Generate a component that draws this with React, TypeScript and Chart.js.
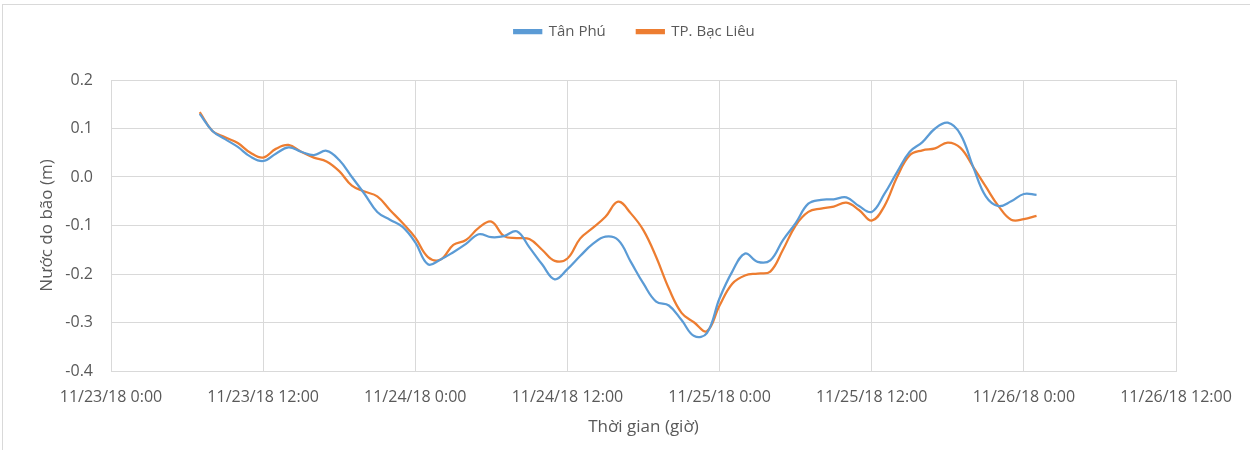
import { useEffect, useRef } from 'react';
import { Chart, registerables } from 'chart.js';

Chart.register(...registerables);

// First data hour (hours counted from 11/23/18 0:00), one value per hour
const startHour = 7;

const tanPhu = [
  0.130, 0.095, 0.078, 0.062, 0.042, 0.033, 0.048, 0.061, 0.052, 0.045,
  0.054, 0.035, 0.000, -0.035, -0.072, -0.088, -0.103, -0.135, -0.180, -0.170,
  -0.155, -0.138, -0.118, -0.124, -0.122, -0.112, -0.145, -0.180, -0.211, -0.190,
  -0.163, -0.138, -0.123, -0.130, -0.175, -0.220, -0.257, -0.265, -0.295, -0.328,
  -0.322, -0.250, -0.195, -0.158, -0.175, -0.172, -0.130, -0.095, -0.055, -0.047,
  -0.046, -0.042, -0.060, -0.072, -0.035, 0.010, 0.052, 0.072, 0.100, 0.112,
  0.088, 0.021, -0.040, -0.060, -0.050, -0.035, -0.037,
];

const bacLieu = [
  0.134, 0.095, 0.082, 0.070, 0.050, 0.040, 0.058, 0.066, 0.052, 0.040,
  0.032, 0.012, -0.018, -0.030, -0.040, -0.068, -0.095, -0.125, -0.165, -0.170,
  -0.140, -0.130, -0.105, -0.092, -0.122, -0.126, -0.128, -0.150, -0.173, -0.168,
  -0.127, -0.105, -0.082, -0.051, -0.075, -0.110, -0.165, -0.230, -0.280, -0.300,
  -0.318, -0.265, -0.220, -0.203, -0.199, -0.195, -0.150, -0.100, -0.072, -0.065,
  -0.061, -0.053, -0.068, -0.090, -0.060, 0.000, 0.045, 0.055, 0.059, 0.071,
  0.060, 0.021, -0.020, -0.060, -0.088, -0.087, -0.080,
];

const seriesNames = ['Tân Phú', 'TP. Bạc Liêu'];
const xTickLabels = [
  '11/23/18 0:00', '11/23/18 12:00', '11/24/18 0:00', '11/24/18 12:00',
  '11/25/18 0:00', '11/25/18 12:00', '11/26/18 0:00', '11/26/18 12:00',
];
const xTickStep = 12;
const yMin = -0.4;
const yMax = 0.2;
const yStep = 0.1;
const xTitle = 'Thời gian (giờ)';
const yTitle = 'Nước do bão (m)';

const FONT = "'Open Sans', sans-serif";
const TEXT = '#595959';
const GRID = '#d9d9d9';

export default function App() {
  const ref = useRef<HTMLCanvasElement | null>(null);

  useEffect(() => {
    document.body.style.margin = '0';
    if (!ref.current) return;
    const toPts = (arr: number[]) => arr.map((v, i) => ({ x: startHour + i, y: v }));

    const legendTweak = {
      id: 'legendTweak',
      beforeLayout(chart: any) {
        const lg = chart.legend;
        if (lg && !lg._patched) {
          const orig = lg.fit.bind(lg);
          lg.fit = function () {
            orig();
            this.height += 24;
          };
          lg._patched = true;
        }
      },
      beforeDraw(chart: any) {
        const lg = chart.legend;
        if (!lg) return;
        lg.left += 30;
        lg.right += 30;
        lg.top -= 7;
        lg.bottom -= 7;
      },
      afterDraw(chart: any) {
        const lg = chart.legend;
        if (!lg) return;
        lg.left -= 30;
        lg.right -= 30;
        lg.top += 7;
        lg.bottom += 7;
      },
    };

    const chart = new Chart(ref.current, {
      type: 'line',
      data: {
        datasets: [
          {
            label: seriesNames[0],
            data: toPts(tanPhu),
            borderColor: '#5B9BD5',
            backgroundColor: '#5B9BD5',
            borderWidth: 2.25,
            pointRadius: 0,
            tension: 0.4,
          },
          {
            label: seriesNames[1],
            data: toPts(bacLieu),
            borderColor: '#ED7D31',
            backgroundColor: '#ED7D31',
            borderWidth: 2.25,
            pointRadius: 0,
            tension: 0.4,
          },
        ],
      },
      plugins: [legendTweak],
      options: {
        animation: false,
        responsive: false,
        maintainAspectRatio: false,
        layout: { padding: { left: 33, right: 74, top: 0, bottom: 9 } },
        plugins: {
          legend: {
            position: 'top',
            labels: {
              boxWidth: 27,
              boxHeight: 3,
              padding: 31,
              color: TEXT,
              font: { family: FONT, size: 15 },
            },
          },
          tooltip: { enabled: false },
        },
        scales: {
          x: {
            type: 'linear',
            min: 0,
            max: xTickStep * (xTickLabels.length - 1),
            afterBuildTicks: (s: any) => {
              s.ticks = xTickLabels.map((_, i) => ({ value: i * xTickStep }));
            },
            ticks: {
              autoSkip: false,
              maxRotation: 0,
              padding: 17,
              color: TEXT,
              font: { family: FONT, size: 16 },
              callback: (v: any) => xTickLabels[Math.round(Number(v) / xTickStep)] ?? '',
            },
            grid: { color: GRID, drawTicks: false, lineWidth: 1 },
            border: { display: true, color: GRID },
            title: {
              display: true,
              text: xTitle,
              color: TEXT,
              font: { family: FONT, size: 17 },
            },
            afterFit: (s: any) => {
              s.height = 70;
            },
          },
          y: {
            min: yMin,
            max: yMax,
            ticks: {
              stepSize: yStep,
              padding: 18,
              color: TEXT,
              font: { family: FONT, size: 16 },
              callback: (v: any) => {
                const n = Number(v);
                return Math.abs(n) < 1e-9 ? '0.0' : n.toFixed(1);
              },
            },
            grid: { color: GRID, drawTicks: false, lineWidth: 1 },
            border: { display: true, color: GRID },
            title: {
              display: true,
              text: yTitle,
              color: TEXT,
              font: { family: FONT, size: 17 },
            },
            afterFit: (s: any) => {
              s.width = 78;
            },
          },
        },
      },
    } as any);

    return () => chart.destroy();
  }, []);

  return (
    <div style={{ position: 'relative', width: 1250, height: 450, overflow: 'hidden', background: '#fff' }}>
      <div
        style={{
          position: 'absolute',
          left: 2,
          top: 4,
          width: 1400,
          height: 600,
          border: '1px solid #d9d9d9',
          pointerEvents: 'none',
        }}
      />
      <canvas ref={ref} width={1250} height={450} style={{ position: 'absolute', left: 0, top: 0 }} />
    </div>
  );
}
